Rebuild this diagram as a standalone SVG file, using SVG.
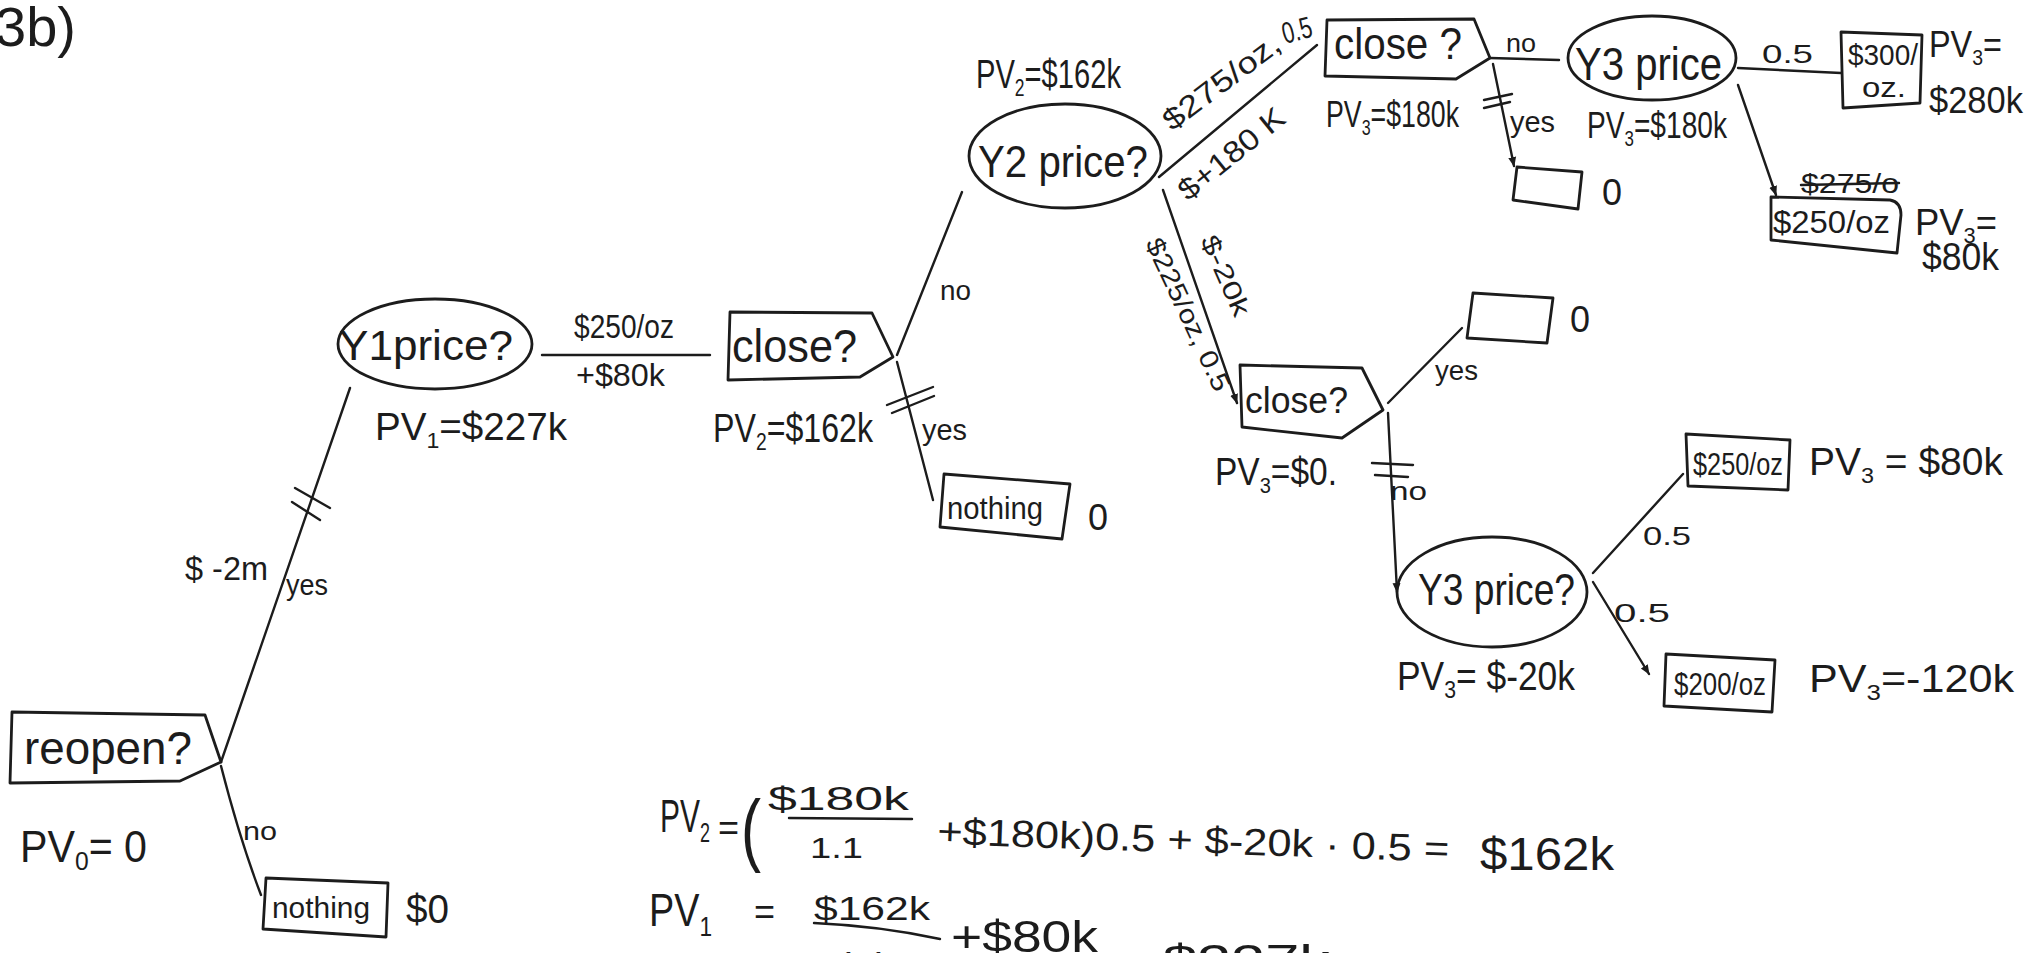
<svg xmlns="http://www.w3.org/2000/svg" width="2031" height="953" viewBox="0 0 2031 953">
<style>
  text { font-family: "Liberation Sans", "DejaVu Sans", sans-serif; fill: #1c1c1c; }
  .s { fill: none; stroke: #1c1c1c; stroke-width: 2.8; stroke-linecap: round; stroke-linejoin: round; }
  .c { fill: none; stroke: #1c1c1c; stroke-width: 2.4; stroke-linecap: round; stroke-linejoin: round; }
  .sub { font-size: 0.6em; }
</style>
<defs>
  <marker id="ah" markerWidth="12" markerHeight="12" refX="9" refY="5" orient="auto" markerUnits="userSpaceOnUse">
    <path d="M0,1 L10,5 L0,9 Z" fill="#1c1c1c"/>
  </marker>
</defs>
<rect width="2031" height="953" fill="#ffffff"/>

<text x="-5" y="46" font-size="56">3b)</text>

<g id="connectors">
  <path class="c" d="M221,762 L350,388"/>
  <path class="c" d="M295,488 L330,508 M292,502 L320,520"/>
  <path class="c" d="M221,766 Q240,840 261,895"/>
  <path class="c" d="M542,355 L710,355"/>
  <path class="c" d="M897,355 L962,192"/>
  <path class="c" d="M897,362 L933,500"/>
  <path class="c" d="M887,405 L933,387 M892,413 L934,396"/>
  <path class="c" d="M1159,177 L1317,45"/>
  <path class="c" d="M1163,190 L1237,403" marker-end="url(#ah)"/>
  <path class="c" d="M1490,58 L1559,60"/>
  <path class="c" d="M1493,64 L1514,166" marker-end="url(#ah)"/>
  <path class="c" d="M1484,100 L1512,94 M1484,108 L1510,102"/>
  <path class="c" d="M1738,68 L1841,73"/>
  <path class="c" d="M1738,85 L1776,195" marker-end="url(#ah)"/>
  <path class="c" d="M1388,403 L1462,328"/>
  <path class="c" d="M1388,413 L1397,592" marker-end="url(#ah)"/>
  <path class="c" d="M1372,463 L1413,465 M1375,475 L1408,477"/>
  <path class="c" d="M1593,573 L1683,474"/>
  <path class="c" d="M1593,582 L1649,674" marker-end="url(#ah)"/>
</g>

<g id="edge-labels">
  <text x="185" y="580" font-size="34" textLength="83" lengthAdjust="spacingAndGlyphs">$ -2m</text>
  <text x="286" y="595" font-size="30" textLength="42" lengthAdjust="spacingAndGlyphs">yes</text>
  <text x="243" y="840" font-size="26" textLength="34" lengthAdjust="spacingAndGlyphs">no</text>
  <text x="574" y="338" font-size="34" textLength="100" lengthAdjust="spacingAndGlyphs">$250/oz</text>
  <text x="576" y="386" font-size="32" textLength="89" lengthAdjust="spacingAndGlyphs">+$80k</text>
  <text x="940" y="300" font-size="28" textLength="31" lengthAdjust="spacingAndGlyphs">no</text>
  <text x="922" y="440" font-size="30" textLength="45" lengthAdjust="spacingAndGlyphs">yes</text>
  <text x="1172" y="132" font-size="30" textLength="139" lengthAdjust="spacingAndGlyphs" transform="rotate(-37 1172 132)">$275/oz,</text>
  <text x="1285" y="44" font-size="30" textLength="30" lengthAdjust="spacingAndGlyphs" transform="rotate(-15 1285 44)">0.5</text>
  <text x="1188" y="202" font-size="30" textLength="128" lengthAdjust="spacingAndGlyphs" transform="rotate(-39 1188 202)">$+180 K</text>
  <text x="1145" y="243" font-size="26" textLength="166" lengthAdjust="spacingAndGlyphs" transform="rotate(65 1145 243)">$225/oz, 0.5</text>
  <text x="1200" y="240" font-size="26" textLength="86" lengthAdjust="spacingAndGlyphs" transform="rotate(66 1200 240)">$-20k</text>
  <text x="1506" y="52" font-size="26" textLength="30" lengthAdjust="spacingAndGlyphs">no</text>
  <text x="1510" y="132" font-size="30" textLength="45" lengthAdjust="spacingAndGlyphs">yes</text>
  <text x="1762" y="63" font-size="26" textLength="51" lengthAdjust="spacingAndGlyphs">0.5</text>
  <text x="1435" y="380" font-size="28" textLength="43" lengthAdjust="spacingAndGlyphs">yes</text>
  <text x="1390" y="500" font-size="26" textLength="37" lengthAdjust="spacingAndGlyphs">no</text>
  <text x="1643" y="545" font-size="26" textLength="48" lengthAdjust="spacingAndGlyphs">0.5</text>
  <text x="1614" y="622" font-size="26" textLength="56" lengthAdjust="spacingAndGlyphs">0.5</text>
</g>

<g id="reopen">
  <path class="s" d="M12,712 L205,715 L221,762 L180,781 L10,783 Z"/>
  <text x="24" y="764" font-size="46" textLength="168" lengthAdjust="spacingAndGlyphs">reopen?</text>
  <text x="20" y="862" font-size="44" textLength="127" lengthAdjust="spacingAndGlyphs">PV<tspan class="sub" dy="8">0</tspan><tspan dy="-8">= 0</tspan></text>
</g>

<g id="nothing-1">
  <path class="s" d="M266,878 L388,883 L386,937 L263,929 Z"/>
  <text x="272" y="918" font-size="30" textLength="98" lengthAdjust="spacingAndGlyphs">nothing</text>
  <text x="406" y="923" font-size="40" textLength="43" lengthAdjust="spacingAndGlyphs">$0</text>
</g>

<g id="y1-price">
  <ellipse class="s" cx="435" cy="344" rx="97" ry="45"/>
  <text x="339" y="360" font-size="42" textLength="174" lengthAdjust="spacingAndGlyphs">Y1price?</text>
  <text x="375" y="440" font-size="38" textLength="192" lengthAdjust="spacingAndGlyphs">PV<tspan class="sub" dy="8">1</tspan><tspan dy="-8">=$227k</tspan></text>
</g>

<g id="close-1">
  <path class="s" d="M730,312 L872,313 L893,357 L860,377 L728,380 Z"/>
  <text x="732" y="362" font-size="46" textLength="125" lengthAdjust="spacingAndGlyphs">close?</text>
  <text x="713" y="442" font-size="40" textLength="160" lengthAdjust="spacingAndGlyphs">PV<tspan class="sub" dy="8">2</tspan><tspan dy="-8">=$162k</tspan></text>
</g>

<g id="nothing-2">
  <path class="s" d="M944,474 L1070,484 L1062,539 L940,527 Z"/>
  <text x="947" y="519" font-size="32" textLength="96" lengthAdjust="spacingAndGlyphs">nothing</text>
  <text x="1088" y="530" font-size="36">0</text>
</g>

<g id="y2-price">
  <ellipse class="s" cx="1065" cy="156" rx="96" ry="52"/>
  <text x="978" y="177" font-size="44" textLength="170" lengthAdjust="spacingAndGlyphs">Y2 price?</text>
  <text x="976" y="88" font-size="40" textLength="145" lengthAdjust="spacingAndGlyphs">PV<tspan class="sub" dy="8">2</tspan><tspan dy="-8">=$162k</tspan></text>
</g>

<g id="close-2">
  <path class="s" d="M1327,20 L1474,19 L1490,58 L1456,79 L1325,76 Z"/>
  <text x="1334" y="59" font-size="44" textLength="128" lengthAdjust="spacingAndGlyphs">close ?</text>
  <text x="1326" y="127" font-size="36" textLength="133" lengthAdjust="spacingAndGlyphs">PV<tspan class="sub" dy="8">3</tspan><tspan dy="-8">=$180k</tspan></text>
</g>

<g id="empty-1">
  <path class="s" d="M1517,167 L1582,172 L1578,209 L1513,200 Z"/>
  <text x="1602" y="205" font-size="36">0</text>
</g>

<g id="y3-price-1">
  <ellipse class="s" cx="1652" cy="58" rx="84" ry="42"/>
  <text x="1575" y="80" font-size="46" textLength="147" lengthAdjust="spacingAndGlyphs">Y3 price</text>
  <text x="1587" y="138" font-size="36" textLength="140" lengthAdjust="spacingAndGlyphs">PV<tspan class="sub" dy="8">3</tspan><tspan dy="-8">=$180k</tspan></text>
</g>

<g id="leaf-300">
  <path class="s" d="M1841,32 L1922,35 L1920,103 L1843,108 Z"/>
  <text x="1848" y="65" font-size="30" textLength="70" lengthAdjust="spacingAndGlyphs">$300/</text>
  <text x="1862" y="97" font-size="28" textLength="44" lengthAdjust="spacingAndGlyphs">oz.</text>
  <text x="1929" y="57" font-size="36" textLength="73" lengthAdjust="spacingAndGlyphs">PV<tspan class="sub" dy="8">3</tspan><tspan dy="-8">=</tspan></text>
  <text x="1929" y="113" font-size="36" textLength="94" lengthAdjust="spacingAndGlyphs">$280k</text>
</g>

<g id="leaf-250-1">
  <text x="1801" y="193" font-size="28" textLength="98" lengthAdjust="spacingAndGlyphs">$275/o</text>
  <path class="c" d="M1801,185 L1899,183"/>
  <path class="s" d="M1771,197 L1890,200 Q1901,202 1901,215 L1897,253 L1771,240 Z"/>
  <text x="1773" y="233" font-size="32" textLength="117" lengthAdjust="spacingAndGlyphs">$250/oz</text>
  <text x="1915" y="235" font-size="36" textLength="82" lengthAdjust="spacingAndGlyphs">PV<tspan class="sub" dy="8">3</tspan><tspan dy="-8">=</tspan></text>
  <text x="1922" y="270" font-size="38" textLength="77" lengthAdjust="spacingAndGlyphs">$80k</text>
</g>

<g id="close-3">
  <path class="s" d="M1240,365 L1362,368 L1383,410 L1342,438 L1242,427 Z"/>
  <text x="1245" y="413" font-size="36" textLength="103" lengthAdjust="spacingAndGlyphs">close?</text>
  <text x="1215" y="485" font-size="38" textLength="122" lengthAdjust="spacingAndGlyphs">PV<tspan class="sub" dy="8">3</tspan><tspan dy="-8">=$0.</tspan></text>
</g>

<g id="empty-2">
  <path class="s" d="M1473,293 L1553,298 L1547,343 L1467,338 Z"/>
  <text x="1570" y="332" font-size="36">0</text>
</g>

<g id="y3-price-2">
  <ellipse class="s" cx="1492" cy="592" rx="95" ry="55"/>
  <text x="1418" y="605" font-size="44" textLength="157" lengthAdjust="spacingAndGlyphs">Y3 price?</text>
  <text x="1397" y="690" font-size="40" textLength="178" lengthAdjust="spacingAndGlyphs">PV<tspan class="sub" dy="8">3</tspan><tspan dy="-8">= $-20k</tspan></text>
</g>

<g id="leaf-250-2">
  <path class="s" d="M1686,434 L1790,440 L1788,490 L1688,486 Z"/>
  <text x="1693" y="475" font-size="32" textLength="90" lengthAdjust="spacingAndGlyphs">$250/oz</text>
  <text x="1809" y="475" font-size="38" textLength="194" lengthAdjust="spacingAndGlyphs">PV<tspan class="sub" dy="8">3</tspan><tspan dy="-8"> = $80k</tspan></text>
</g>

<g id="leaf-200">
  <path class="s" d="M1666,654 L1775,660 L1772,712 L1664,706 Z"/>
  <text x="1674" y="695" font-size="32" textLength="92" lengthAdjust="spacingAndGlyphs">$200/oz</text>
  <text x="1809" y="692" font-size="38" textLength="205" lengthAdjust="spacingAndGlyphs">PV<tspan class="sub" dy="8">3</tspan><tspan dy="-8">=-120k</tspan></text>
</g>

<g id="formulas">
  <text x="660" y="832" font-size="46" textLength="50" lengthAdjust="spacingAndGlyphs">PV<tspan class="sub" dy="10">2</tspan></text>
  <text x="718" y="840" font-size="36">=</text>
  <text x="741" y="856" font-size="80" textLength="20" lengthAdjust="spacingAndGlyphs">(</text>
  <text x="768" y="810" font-size="34" textLength="141" lengthAdjust="spacingAndGlyphs">$180k</text>
  <path class="c" d="M789,818 L912,819"/>
  <text x="810" y="858" font-size="30" textLength="53" lengthAdjust="spacingAndGlyphs">1.1</text>
  <text x="937" y="844" font-size="38" textLength="512" lengthAdjust="spacingAndGlyphs" transform="rotate(2 937 844)">+$180k)0.5 + $-20k · 0.5 =</text>
  <text x="1480" y="870" font-size="46" textLength="134" lengthAdjust="spacingAndGlyphs">$162k</text>

  <text x="649" y="926" font-size="46" textLength="63" lengthAdjust="spacingAndGlyphs">PV<tspan class="sub" dy="10">1</tspan></text>
  <text x="754" y="924" font-size="36">=</text>
  <text x="814" y="920" font-size="34" textLength="116" lengthAdjust="spacingAndGlyphs">$162k</text>
  <path class="c" d="M814,923 Q880,926 940,939"/>
  <text x="838" y="978" font-size="36" textLength="50" lengthAdjust="spacingAndGlyphs">1.1</text>
  <text x="951" y="952" font-size="44" textLength="147" lengthAdjust="spacingAndGlyphs">+$80k</text>
  <text x="1110" y="976" font-size="44" textLength="220" lengthAdjust="spacingAndGlyphs">= $227k</text>
</g>
</svg>
